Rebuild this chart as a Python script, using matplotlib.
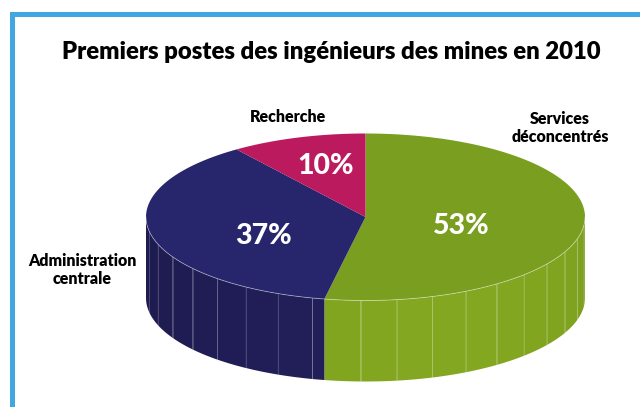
import numpy as np
import matplotlib.pyplot as plt
from matplotlib.patches import Polygon

plt.rcParams['font.family'] = ['Lato', 'DejaVu Sans']

# data
labels = ["Services\ndéconcentrés", "Administration\ncentrale", "Recherche"]
shares = [53, 37, 10]
top_colors = ["#7a9e1f", "#27266c", "#bc1a5e"]
side_colors = ["#7fa21f", "#211e58", "#9c1550"]
title = "Premiers postes des ingénieurs des mines en 2010"

# geometry of the 3d pie (pixels)
W, H = 640, 407
cx, cy = 365.5, 217
rx, ry = 219.5, 83.5
depth = 81


def pt(theta, dy=0.0):
    t = np.radians(theta)
    return cx + rx * np.cos(t), cy - ry * np.sin(t) + dy


fig = plt.figure(figsize=(W / 100, H / 100), dpi=100)
ax = fig.add_axes([0, 0, 1, 1])
ax.set_xlim(0, W)
ax.set_ylim(H, 0)
ax.axis('off')

# frame (top and left only)
ax.add_patch(plt.Rectangle((10, 12), W - 10, 5, color="#42a7e0", lw=0))
ax.add_patch(plt.Rectangle((10, 12), 5, H - 12, color="#42a7e0", lw=0))

# slice angles, clockwise from 12 o'clock
bounds = [90.0]
for s in shares:
    bounds.append(bounds[-1] - s / 100 * 360)


def side_shade(base, theta):
    c = np.array([int(base[i:i + 2], 16) for i in (1, 3, 5)]) / 255
    k = 0.93 + 0.10 * np.cos(np.radians(theta - 295))
    return tuple(np.clip(c * k, 0, 1))


# side walls (front half only: 180..360 deg)
for i in range(len(shares)):
    a0, a1 = bounds[i + 1], bounds[i]
    for off in (0, -360, 360):
        lo, hi = max(a0 + off, 180), min(a1 + off, 360)
        if hi <= lo:
            continue
        edges = np.append(np.arange(lo, hi, 9.5), hi)
        for j, (e0, e1) in enumerate(zip(edges[:-1], edges[1:])):
            th = np.linspace(e0, e1, 8)
            top = [pt(t) for t in th]
            bot = [pt(t, depth) for t in th[::-1]]
            ax.add_patch(Polygon(top + bot, closed=True,
                                 fc=side_shade(side_colors[i], (e0 + e1) / 2),
                                 ec="none", lw=0, zorder=2))
            if j > 0:
                x0, y0 = pt(e0)
                ax.plot([x0, x0], [y0, y0 + depth], color="white", alpha=0.22,
                        lw=0.6, zorder=3)

# top face
for i in range(len(shares)):
    th = np.linspace(bounds[i], bounds[i + 1], 120)
    poly = [(cx, cy)] + [pt(t) for t in th]
    ax.add_patch(Polygon(poly, closed=True, fc=top_colors[i], ec="none",
                         zorder=4))

# thin light rim on the front edge
th = np.linspace(180, 360, 200)
rim = np.array([pt(t) for t in th])
ax.plot(rim[:, 0], rim[:, 1], color="white", alpha=0.45, lw=0.6, zorder=5)

# percentages
pct_pos = [(461, 226), (263, 236), (326, 166)]
for s, (x, y) in zip(shares, pct_pos):
    ax.text(x, y, f"{s}%", color="white", fontsize=20.5, fontweight="black",
            ha="center", va="center", zorder=6)

# category labels
lab_pos = [(560, 128), (82, 270), (288, 117)]
for lab, (x, y) in zip(labels, lab_pos):
    ax.text(x, y, lab, fontsize=11.5, fontweight="heavy", ha="center",
            va="center", linespacing=1.2)

ax.text(331, 52, title, fontsize=17.2, fontweight="heavy", ha="center",
        va="center")

fig.savefig("out.png", dpi=100)
